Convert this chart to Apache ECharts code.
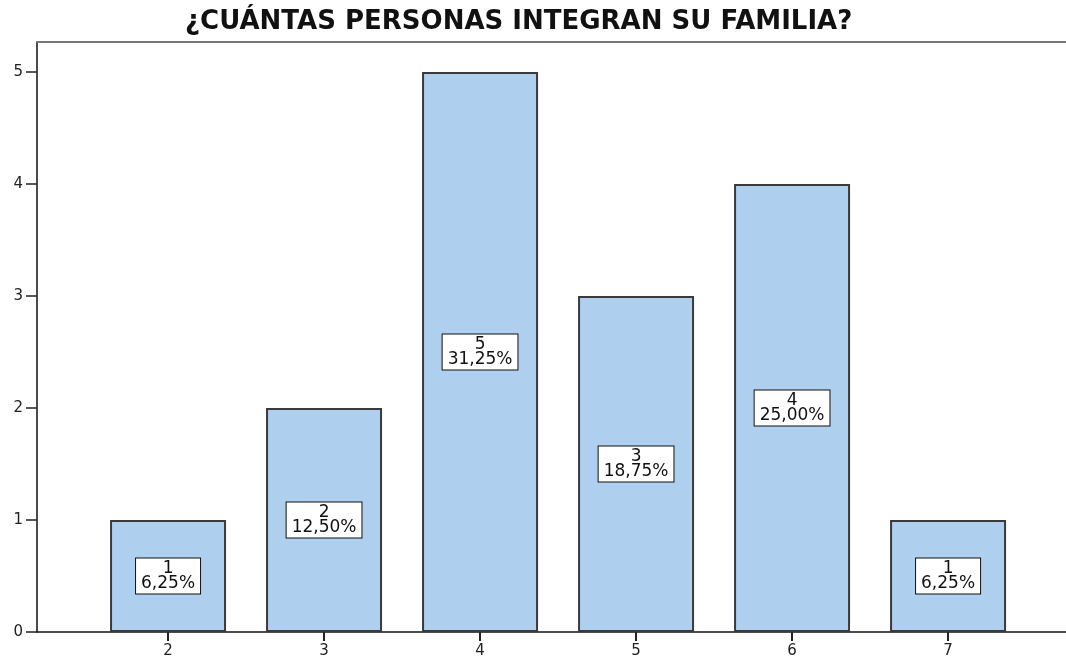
<!DOCTYPE html>
<html>
<head>
<meta charset="utf-8">
<script src="https://cdn.jsdelivr.net/npm/echarts@6/dist/echarts.min.js"></script>
<style>
  html, body { margin: 0; padding: 0; background: #fff; }
  #chart { width: 1066px; height: 659px; }
</style>
</head>
<body>
<div id="chart"></div>
<script>
// datos
var categories = [2, 3, 4, 5, 6, 7]
var counts = [1, 2, 5, 3, 4, 1]
var percents = ['6,25%', '12,50%', '31,25%', '18,75%', '25,00%', '6,25%']
var yTicks = [0, 1, 2, 3, 4, 5]

var barData = categories.map(function (c, i) {
  return { value: [c, counts[i]], pct: percents[i] }
})

var font = 'DejaVu Sans, Verdana, sans-serif'

var option = {
  animation: false,
  title: {
    text: '¿CUÁNTAS PERSONAS INTEGRAN SU FAMILIA?',
    left: 180,
    top: 4,
    textStyle: { fontFamily: font, fontSize: 26, fontWeight: 'bold', color: '#111' }
  },
  grid: { left: 37, right: 0, top: 42, bottom: 27, outerBoundsMode: 'none' },
  xAxis: [{
    type: 'value',
    min: 1.16,
    max: 7.756,
    splitLine: { show: false },
    axisLine: { show: true, lineStyle: { color: '#111', width: 1.5 } },
    axisTick: { show: true, length: 9, customValues: categories, lineStyle: { color: '#222', width: 2 } },
    axisLabel: { customValues: categories, color: '#222', fontFamily: font, fontSize: 15, margin: 12 }
  }, {
    type: 'value',
    position: 'top',
    min: 1.16,
    max: 7.756,
    splitLine: { show: false },
    axisLine: { show: true, lineStyle: { color: '#777', width: 2 } },
    axisTick: { show: false },
    axisLabel: { show: false }
  }],
  yAxis: {
    type: 'value',
    min: 0,
    max: 5.268,
    splitLine: { show: false },
    axisLine: { show: true, lineStyle: { color: '#111', width: 1.5 } },
    axisTick: { show: true, length: 11, customValues: yTicks, lineStyle: { color: '#222', width: 1.5 } },
    axisLabel: { customValues: yTicks, color: '#222', fontFamily: font, fontSize: 15, margin: 14 }
  },
  series: [{
    type: 'bar',
    xAxisIndex: 0,
    barWidth: 116,
    data: barData,
    itemStyle: { color: '#aecfee', borderColor: '#3a3a3a', borderWidth: 2 },
    label: {
      show: true,
      position: 'inside',
      formatter: function (p) {
        return p.value[1] + '\n' + p.data.pct
      },
      color: '#111',
      fontFamily: font,
      fontSize: 17,
      lineHeight: 15,
      align: 'center',
      backgroundColor: '#fff',
      borderColor: '#111',
      borderWidth: 1,
      padding: [3, 5, 2, 5]
    }
  }]
}

echarts.init(document.getElementById('chart')).setOption(option)
</script>
</body>
</html>
